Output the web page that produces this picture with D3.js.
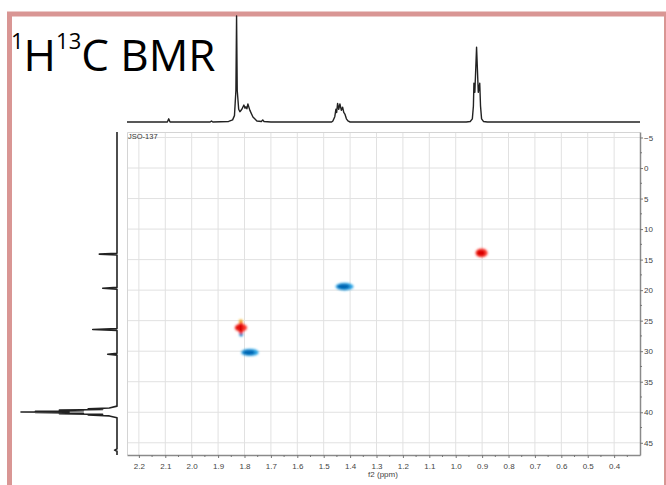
<!DOCTYPE html>
<html>
<head>
<meta charset="utf-8">
<script src="https://cdn.jsdelivr.net/npm/d3@7"></script>
<style>
  body { margin: 0; background: #fff; }
  svg { display: block; }
</style>
</head>
<body>
<div id="chart"></div>
<script>
// axis ticks (ppm)
const xTicks = [2.2, 2.1, 2.0, 1.9, 1.8, 1.7, 1.6, 1.5, 1.4, 1.3, 1.2, 1.1, 1.0, 0.9, 0.8, 0.7, 0.6, 0.5, 0.4];
const yTicks = [-5, 0, 5, 10, 15, 20, 25, 30, 35, 40, 45];

// 1H projection on top: [ppm, intensity]
const protonTrace = [
  [2.245, 0], [2.092, 0], [2.087, 3], [2.082, 0], [1.93, 0], [1.925, 1], [1.92, 0],
  [1.86, 0.5], [1.845, 2], [1.838, 6], [1.8325, 30], [1.830, 100], [1.8275, 30],
  [1.822, 12], [1.8174, 9.7], [1.810, 12], [1.8023, 16], [1.798, 13], [1.7947, 14.4],
  [1.791, 12.5], [1.7871, 17], [1.7795, 11], [1.768, 4.7], [1.753, 1], [1.736, 0.5],
  [1.731, 2], [1.726, 0.5], [1.70, 0],
  [1.47, 0], [1.4652, 1], [1.458, 5], [1.4538, 12], [1.451, 9], [1.4473, 17.6],
  [1.443, 12], [1.4386, 17], [1.433, 11], [1.4284, 14], [1.424, 9], [1.4197, 7.5],
  [1.414, 3], [1.4083, 1], [1.40, 0],
  [0.96, 0], [0.945, 0.5], [0.937, 3], [0.933, 15], [0.931, 36.5], [0.9275, 28],
  [0.921, 70.5], [0.9145, 28], [0.909, 36.5], [0.906, 15], [0.902, 3], [0.895, 0.5],
  [0.88, 0], [0.302, 0]
];

// 13C projection on the left: [ppm, intensity]
const carbonTrace = [
  [-5.9, 0], [13.95, 0], [14.1, 18.4], [14.25, 0], [19.55, 0], [19.7, 14.9], [19.85, 0],
  [26.3, 0], [26.45, 25.3], [26.6, 0], [30.35, 0], [30.5, 9.7], [30.65, 0],
  [39.0, 0], [39.3, 8], [39.45, 30], [39.55, 15], [39.65, 60], [39.75, 35],
  [39.85, 85], [39.9, 50], [39.95, 100], [40.0, 50], [40.05, 85], [40.15, 35],
  [40.25, 60], [40.35, 15], [40.45, 30], [40.6, 8], [40.9, 0],
  [46.0, 0], [46.2, 2.5], [46.4, 0], [47.0, 0]
];

// HSQC cross peaks: 1H ppm, 13C ppm, phase, extent in ppm
const crossPeaks = [
  { h: 0.902, c: 13.9, phase: "pos", spanH: 0.046, spanC: 1.4 },
  { h: 1.421, c: 19.42, phase: "neg", spanH: 0.068, spanC: 1.25 },
  { h: 1.7795, c: 30.2, phase: "neg", spanH: 0.066, spanC: 1.2 },
  { h: 1.8125, c: 27.2, phase: "neg", spanH: 0.015, spanC: 0.9 },
  { h: 1.8135, c: 25.1, phase: "weak", spanH: 0.015, spanC: 0.7 },
  { h: 1.8136, c: 26.15, phase: "pos", spanH: 0.047, spanC: 1.3 },
  { h: 1.8130, c: 26.2, phase: "pos", spanH: 0.022, spanC: 2.0 }
];

const W = 666, H = 485;
const plot = { left: 127, right: 640, top: 132, bottom: 455 };

const svg = d3.select("#chart").append("svg")
  .attr("width", W).attr("height", H)
  .style("font-family", "'Liberation Sans', Arial, sans-serif");

const x = d3.scaleLinear().domain([2.245, 0.302]).range([plot.left, plot.right]);
const y = d3.scaleLinear().domain([-5.9, 47.0]).range([plot.top, plot.bottom]);
const yTop = d3.scaleLinear().domain([0, 100]).range([122, 16]);
const xLeft = d3.scaleLinear().domain([0, 100]).range([117, 21]);

// slide frame
svg.append("rect")
  .attr("x", 9.5).attr("y", 14)
  .attr("width", 657).attr("height", 520)
  .attr("fill", "none")
  .attr("stroke", "#d99694")
  .attr("stroke-width", 5);

// grid
const grid = svg.append("g");
grid.selectAll(".vg").data(xTicks).join("line")
  .attr("x1", d => x(d)).attr("x2", d => x(d))
  .attr("y1", plot.top).attr("y2", plot.bottom)
  .attr("stroke", "#e1e1e1");
grid.selectAll(".hg").data(yTicks).join("line")
  .attr("x1", plot.left).attr("x2", plot.right)
  .attr("y1", d => y(d)).attr("y2", d => y(d))
  .attr("stroke", "#e1e1e1");
grid.append("path")
  .attr("d", `M${plot.left + 0.5},${plot.bottom}V${plot.top + 0.5}H${plot.right}`)
  .attr("fill", "none").attr("stroke", "#d4d4d4");

svg.append("text")
  .attr("x", plot.left + 1).attr("y", plot.top + 6.5)
  .attr("font-size", 7.5).attr("fill", "#333")
  .text("JSO-137");

// cross peaks
const defs = svg.append("defs");
defs.append("filter").attr("id", "soft")
  .attr("x", "-50%").attr("y", "-50%").attr("width", "200%").attr("height", "200%")
  .append("feGaussianBlur").attr("stdDeviation", 0.8);

const colours = {
  pos: ["#ff3b30", "#d90000"],
  neg: ["#2ea6e6", "#0066b3"],
  weak: ["#f6c445", "#f0a020"]
};
const peaks = svg.append("g").attr("filter", "url(#soft)");
crossPeaks.forEach(p => {
  const rx = Math.abs(x(p.h + p.spanH / 2) - x(p.h - p.spanH / 2)) / 2;
  const ry = Math.abs(y(p.c + p.spanC / 2) - y(p.c - p.spanC / 2)) / 2;
  peaks.append("ellipse")
    .attr("cx", x(p.h)).attr("cy", y(p.c))
    .attr("rx", rx).attr("ry", ry)
    .attr("fill", colours[p.phase][0]);
  peaks.append("ellipse")
    .attr("cx", x(p.h) - rx * 0.12).attr("cy", y(p.c))
    .attr("rx", rx * 0.7).attr("ry", ry * 0.68)
    .attr("fill", colours[p.phase][1]);
});

// axes
const minorX = xTicks.slice(0, -1).map((d, i) => (d + xTicks[i + 1]) / 2).concat([0.35]);
const minorY = yTicks.map(d => d + 2.5).filter(d => d < 47);

const xAxis = svg.append("g")
  .attr("transform", `translate(0,${plot.bottom})`)
  .call(d3.axisBottom(x).tickValues(xTicks).tickFormat(d3.format(".1f")).tickSize(3).tickSizeOuter(0).tickPadding(5));
xAxis.select(".domain").attr("stroke", "#8a8a8a").attr("stroke-width", 1.5);
xAxis.selectAll(".tick line").attr("stroke", "#777");
xAxis.selectAll("text").attr("font-size", 8).attr("fill", "#444")
  .attr("font-family", "'Liberation Sans', Arial, sans-serif");
xAxis.selectAll(".minor").data(minorX).join("line")
  .attr("x1", d => x(d)).attr("x2", d => x(d))
  .attr("y1", 0).attr("y2", 2).attr("stroke", "#777");

const yAxis = svg.append("g")
  .attr("transform", `translate(${plot.right},0)`)
  .call(d3.axisRight(y).tickValues(yTicks).tickSize(3).tickSizeOuter(0).tickPadding(1));
yAxis.select(".domain").attr("stroke", "#8a8a8a").attr("stroke-width", 1.5);
yAxis.selectAll(".tick line").attr("stroke", "#777");
yAxis.selectAll("text").attr("font-size", 8).attr("fill", "#444")
  .attr("font-family", "'Liberation Sans', Arial, sans-serif");
yAxis.selectAll(".minor").data(minorY).join("line")
  .attr("x1", 0).attr("x2", 2)
  .attr("y1", d => y(d)).attr("y2", d => y(d)).attr("stroke", "#777");

svg.append("text")
  .attr("x", 383).attr("y", 477)
  .attr("text-anchor", "middle")
  .attr("font-size", 8).attr("fill", "#444")
  .text("f2 (ppm)");

// 1D projections
svg.append("path")
  .datum(protonTrace)
  .attr("d", d3.line().x(d => x(d[0])).y(d => yTop(d[1])))
  .attr("fill", "none").attr("stroke", "#222").attr("stroke-width", 1.4)
  .attr("stroke-linejoin", "round");

svg.append("path")
  .datum(carbonTrace)
  .attr("d", d3.line().x(d => xLeft(d[1])).y(d => y(d[0])))
  .attr("fill", "none").attr("stroke", "#222").attr("stroke-width", 1.6)
  .attr("stroke-linejoin", "round");

// title
const title = svg.append("text")
  .attr("x", 11).attr("y", 71)
  .attr("font-family", "'Open Sans', sans-serif")
  .attr("fill", "#000");
title.append("tspan").attr("font-size", 22).attr("dy", -22).text("1");
title.append("tspan").attr("font-size", 44).attr("dy", 22).text("H");
title.append("tspan").attr("font-size", 22).attr("dy", -22).text("13");
title.append("tspan").attr("font-size", 44).attr("dy", 22).text("C BMR");
</script>
</body>
</html>
